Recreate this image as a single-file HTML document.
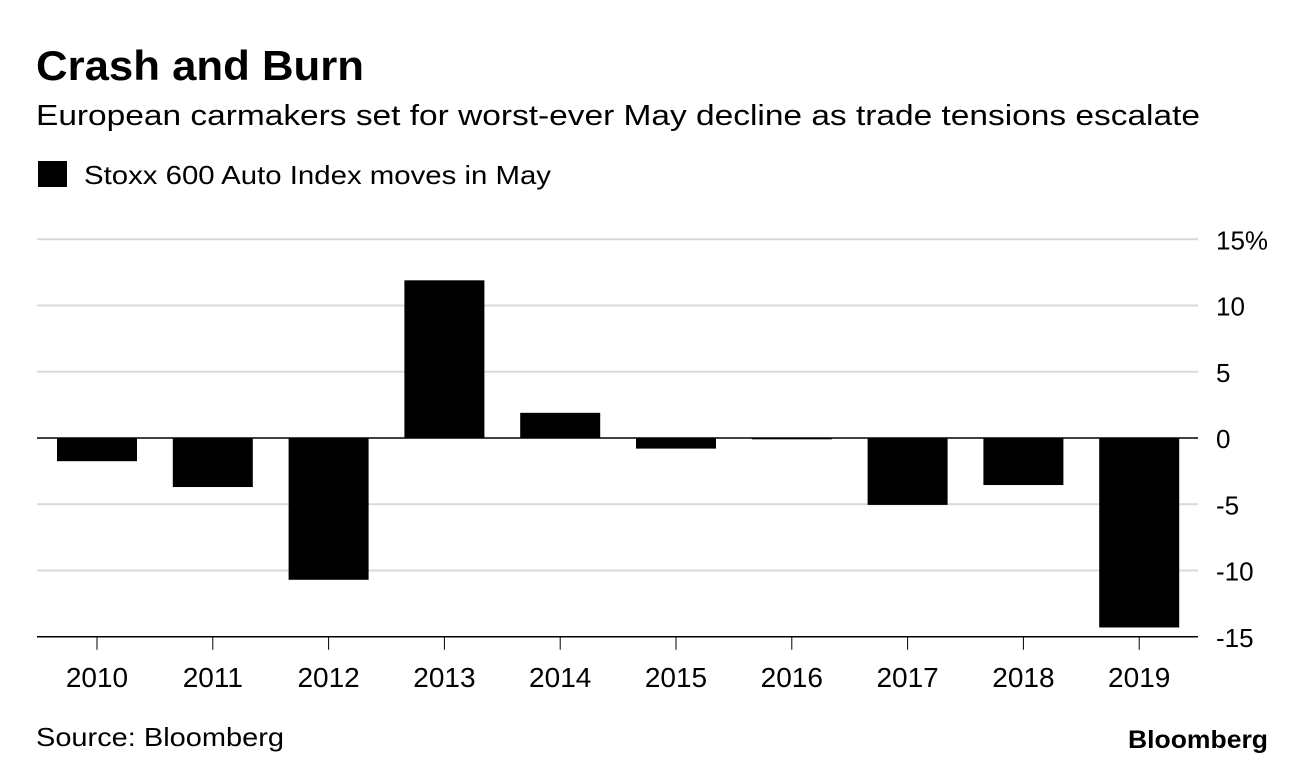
<!DOCTYPE html>
<html><head><meta charset="utf-8"><style>
html,body{margin:0;padding:0;background:#fff;width:1296px;height:768px;overflow:hidden;font-family:"Liberation Sans",Arial,sans-serif;}
</style></head><body>
<svg width="1296" height="768" xmlns="http://www.w3.org/2000/svg" font-family="Liberation Sans, Arial, sans-serif">
<text x="36" y="80" font-size="42" font-weight="bold" fill="#000" textLength="328" lengthAdjust="spacingAndGlyphs">Crash and Burn</text>
<text x="36" y="125" font-size="29" fill="#000" textLength="1164" lengthAdjust="spacingAndGlyphs">European carmakers set for worst-ever May decline as trade tensions escalate</text>
<rect x="38" y="161" width="29" height="26" fill="#000"/>
<text x="84" y="184" font-size="26" fill="#000" textLength="467" lengthAdjust="spacingAndGlyphs">Stoxx 600 Auto Index moves in May</text>
<g id="grid"></g>
<g id="bars"></g>
<g id="xaxis"></g>
<text x="36" y="746" font-size="26" fill="#000" textLength="248" lengthAdjust="spacingAndGlyphs">Source: Bloomberg</text>
<text x="1268" y="748" font-size="25" font-weight="bold" text-anchor="end" fill="#000" textLength="140" lengthAdjust="spacingAndGlyphs">Bloomberg</text>
</svg>
<script>
const categories = ["2010","2011","2012","2013","2014","2015","2016","2017","2018","2019"];
const values = [-1.75,-3.7,-10.7,11.9,1.9,-0.8,-0.1,-5.05,-3.55,-14.3];
const yTicks = [15,10,5,0,-5,-10,-15];
const yTickLabels = ["15%","10","5","0","-5","-10","-15"];
const NS="http://www.w3.org/2000/svg";
const y0=438, pxPerUnit=13.25;
function y(v){return y0 - v*pxPerUnit;}
const step=115.8, x0=97, bw=80;
function x(i){return x0 + i*step;}
function mk(tag,attrs,parent){const e=document.createElementNS(NS,tag);for(const k in attrs)e.setAttribute(k,attrs[k]);parent.appendChild(e);return e;}
const grid=document.getElementById('grid');
yTicks.forEach((t,i)=>{
  const isZero=t===0, isBottom=i===yTicks.length-1;
  const l=mk('line',{x1:37,x2:1198,y1:y(t),y2:y(t),stroke:(isZero||isBottom)?'#000':'#d9d9d9','stroke-width':isZero||isBottom?1.5:2},grid);
  
  
  const tx=mk('text',{x:1216,y:y(t)+10,'font-size':26,fill:'#000'},grid);
  tx.textContent=yTickLabels[i];
  
  
});
const bars=document.getElementById('bars');
values.forEach((v,i)=>{
  const top=Math.min(y(v),y0), h=Math.max(Math.abs(y(v)-y0),1);
  const r=mk('rect',{x:x(i)-bw/2,y:top,width:bw,height:h,fill:'#000'},bars);
  
  
});
const xa=document.getElementById('xaxis');
const by=y(yTicks[yTicks.length-1]);
categories.forEach((c,i)=>{
  const t=mk('line',{x1:x(i),x2:x(i),y1:by,y2:by+13,stroke:'#000','stroke-width':1},xa);
  
  
  const tx=mk('text',{x:x(i),y:687,'font-size':28,'text-anchor':'middle',fill:'#000'},xa);
  tx.textContent=c;
  
  
});
</script>
</body></html>
